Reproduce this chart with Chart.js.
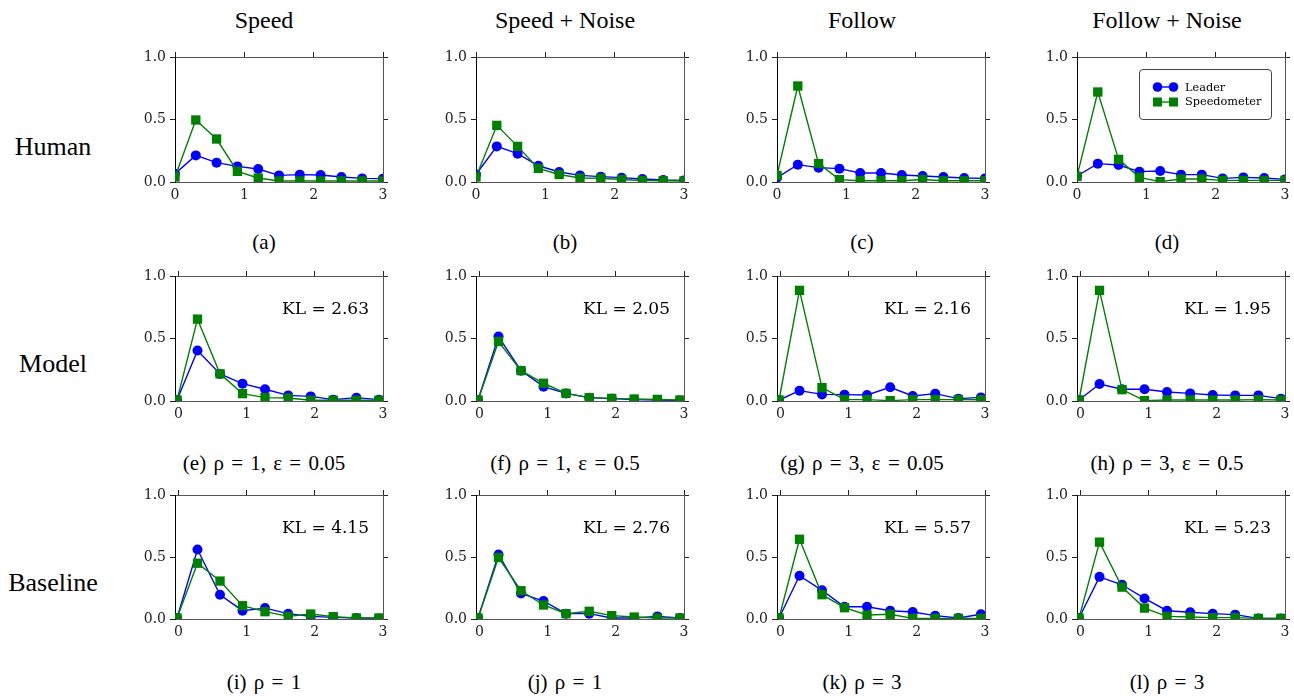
<!DOCTYPE html>
<html><head><meta charset="utf-8">
<script src="https://cdn.jsdelivr.net/npm/chart.js@4.4.0/dist/chart.umd.min.js"></script>
<style>
html,body{margin:0;padding:0;background:#fff;}
body{width:1294px;height:696px;position:relative;overflow:hidden;}
.t{position:absolute;font-family:"Liberation Serif","Times New Roman",serif;color:#000;white-space:nowrap;transform:translate(-50%,-50%);line-height:1;}
.cap{word-spacing:2px;}
.kl{position:absolute;font-family:"DejaVu Serif",serif;font-size:17px;color:#000;white-space:nowrap;transform:translate(-100%,-50%);line-height:1;}
canvas{position:absolute;}
#legend{position:absolute;left:1139px;top:69px;width:133px;height:51px;border:1px solid #444;border-radius:4px;box-sizing:border-box;background:#fff;font-family:"DejaVu Serif",serif;font-size:11.3px;z-index:5;}
#legend .row{position:absolute;left:0;height:14px;display:flex;align-items:center;}
#legend svg{margin-left:14px;margin-right:8px;}
</style>
</head><body>
<script>
// ---------- data ----------
const columnTitles = ["Speed", "Speed + Noise", "Follow", "Follow + Noise"];
const rowLabels = ["Human", "Model", "Baseline"];
const captions = ["(a)", "(b)", "(c)", "(d)",
  "(e) ρ = 1, ε = 0.05", "(f) ρ = 1, ε = 0.5", "(g) ρ = 3, ε = 0.05", "(h) ρ = 3, ε = 0.5",
  "(i) ρ = 1", "(j) ρ = 1", "(k) ρ = 3", "(l) ρ = 3"];
const klLabels = [null, null, null, null, "KL = 2.63", "KL = 2.05", "KL = 2.16", "KL = 1.95",
  "KL = 4.15", "KL = 2.76", "KL = 5.57", "KL = 5.23"];
const seriesNames = ["Leader", "Speedometer"];
const xTickValues = [0, 1, 2, 3];
const yTickValues = [0, 0.5, 1.0];

const xHuman = [0, 0.3, 0.6, 0.9, 1.2, 1.5, 1.8, 2.1, 2.4, 2.7, 3.0];
const xSim = [-0.02, 0.28, 0.61, 0.94, 1.27, 1.61, 1.94, 2.27, 2.61, 2.94];

const leaderA = [0.067, 0.213, 0.155, 0.125, 0.104, 0.053, 0.059, 0.056, 0.040, 0.029, 0.027];
const speedoA = [0.040, 0.496, 0.344, 0.085, 0.032, 0.008, 0.008, 0.008, 0.008, 0.008, 0.008];
const leaderB = [0.060, 0.285, 0.227, 0.130, 0.080, 0.053, 0.043, 0.035, 0.024, 0.016, 0.013];
const speedoB = [0.040, 0.453, 0.285, 0.109, 0.060, 0.032, 0.030, 0.020, 0.012, 0.010, 0.008];
const leaderC = [0.035, 0.139, 0.115, 0.107, 0.072, 0.072, 0.056, 0.048, 0.040, 0.032, 0.029];
const speedoC = [0.053, 0.768, 0.147, 0.019, 0.010, 0.010, 0.010, 0.020, 0.010, 0.010, 0.010];
const leaderD = [0.048, 0.147, 0.136, 0.083, 0.088, 0.059, 0.059, 0.029, 0.037, 0.032, 0.021];
const speedoD = [0.045, 0.720, 0.181, 0.037, 0.003, 0.024, 0.024, 0.013, 0.013, 0.013, 0.013];

const leaderE = [0.008, 0.404, 0.217, 0.139, 0.094, 0.045, 0.037, 0.011, 0.027, 0.011];
const speedoE = [0.008, 0.655, 0.217, 0.059, 0.027, 0.024, 0.006, 0.006, 0.006, 0.006];
const leaderF = [0.008, 0.516, 0.243, 0.115, 0.061, 0.027, 0.019, 0.011, 0.008, 0.005];
const speedoF = [0.008, 0.476, 0.243, 0.142, 0.061, 0.027, 0.021, 0.016, 0.013, 0.008];
const leaderG = [0.008, 0.083, 0.053, 0.051, 0.048, 0.110, 0.040, 0.059, 0.019, 0.029];
const speedoG = [0.008, 0.885, 0.107, 0.011, 0.011, 0.003, 0.011, 0.011, 0.011, 0.010];
const leaderH = [0.008, 0.136, 0.094, 0.094, 0.072, 0.061, 0.048, 0.045, 0.045, 0.019];
const speedoH = [0.008, 0.885, 0.091, 0.003, 0.008, 0.008, 0.008, 0.008, 0.011, 0.008];

const leaderI = [0.008, 0.560, 0.196, 0.067, 0.088, 0.043, 0.021, 0.013, 0.008, 0.005];
const speedoI = [0.008, 0.450, 0.306, 0.107, 0.059, 0.021, 0.040, 0.019, 0.008, 0.008];
const leaderJ = [0.008, 0.520, 0.206, 0.145, 0.043, 0.043, 0.008, 0.008, 0.021, 0.008];
const speedoJ = [0.008, 0.496, 0.228, 0.113, 0.043, 0.062, 0.027, 0.016, 0.008, 0.008];
const leaderK = [0.008, 0.349, 0.231, 0.099, 0.099, 0.067, 0.056, 0.027, 0.008, 0.038];
const speedoK = [0.008, 0.643, 0.196, 0.091, 0.032, 0.038, 0.005, 0.005, 0.005, 0.005];
const leaderL = [0.008, 0.340, 0.276, 0.166, 0.067, 0.054, 0.043, 0.035, 0.005, 0.005];
const speedoL = [0.008, 0.620, 0.257, 0.088, 0.021, 0.016, 0.011, 0.011, 0.005, 0.005];

const panelX = [xHuman, xHuman, xHuman, xHuman, xSim, xSim, xSim, xSim, xSim, xSim, xSim, xSim];
const panelLeader = [leaderA, leaderB, leaderC, leaderD, leaderE, leaderF, leaderG, leaderH, leaderI, leaderJ, leaderK, leaderL];
const panelSpeedo = [speedoA, speedoB, speedoC, speedoD, speedoE, speedoF, speedoG, speedoH, speedoI, speedoJ, speedoK, speedoL];
const rowXMin = [0, -0.05, -0.05];

// ---------- layout ----------
const colLeft = [175, 476, 777, 1077];
const rowTop = [57, 276, 495];
const plotW = 208;
const plotH = [125, 125, 124];
const padL = 44, padR = 14, padT = 14, padB = 28;
const colTextX = [264, 565, 862, 1167];
const titleY = 20;
const rowLabelX = 53;
const rowLabelY = [147, 364, 583];
const captionY = [242, 463, 682];

const BLUE = '#0000ff', GREEN = '#008000';
const tickFont = {family: 'DejaVu Serif', size: 14};

function addText(cls, txt, x, y, size) {
  const d = document.createElement('div');
  d.className = cls; d.textContent = txt;
  d.style.left = x + 'px'; d.style.top = y + 'px';
  if (size) d.style.fontSize = size + 'px';
  document.body.appendChild(d);
  return d;
}

columnTitles.forEach((t, i) => addText('t', t, colTextX[i], titleY, 24));
rowLabels.forEach((t, i) => addText('t', t, rowLabelX, rowLabelY[i], 26));
captions.forEach((t, i) => addText('t cap', t, colTextX[i % 4], captionY[Math.floor(i / 4)], 21));

function setTicks(vals) { return s => { s.ticks = vals.map(v => ({value: v})); }; }

function makePanel(idx) {
  const col = idx % 4, row = Math.floor(idx / 4);
  const W = plotW, H = plotH[row];
  const cv = document.createElement('canvas');
  cv.width = W + padL + padR; cv.height = H + padT + padB;
  cv.style.left = (colLeft[col] - padL) + 'px';
  cv.style.top = (rowTop[row] - padT) + 'px';
  document.body.appendChild(cv);
  const xs = panelX[idx];
  const xmin = rowXMin[row];
  new Chart(cv, {
    type: 'line',
    data: {
      datasets: [
        {label: seriesNames[0], data: xs.map((x, i) => ({x: x, y: panelLeader[idx][i]})),
         borderColor: BLUE, backgroundColor: BLUE, pointBackgroundColor: BLUE, pointBorderColor: BLUE,
         pointStyle: 'circle', pointRadius: 5, pointBorderWidth: 0, borderWidth: 1.4, tension: 0, clip: 0, order: 1},
        {label: seriesNames[1], data: xs.map((x, i) => ({x: x, y: panelSpeedo[idx][i]})),
         borderColor: GREEN, backgroundColor: GREEN, pointBackgroundColor: GREEN, pointBorderColor: GREEN,
         pointStyle: 'rect', pointRadius: 6.6, pointBorderWidth: 0, borderWidth: 1.4, tension: 0, clip: 0, order: 0}
      ]
    },
    options: {
      responsive: false, animation: false, devicePixelRatio: 1, events: [],
      layout: {padding: 0},
      plugins: {legend: {display: false}, tooltip: {enabled: false}},
      scales: {
        x: {type: 'linear', position: 'bottom', min: xmin, max: 3,
            afterBuildTicks: setTicks(xTickValues), afterFit: s => { s.height = padB; },
            grid: {display: true, drawOnChartArea: false, drawTicks: false},
            border: {color: '#555', width: 1},
            ticks: {font: tickFont, color: '#222', padding: 5, maxRotation: 0, autoSkip: false, callback: v => String(v)}},
        x2: {type: 'linear', position: 'top', min: xmin, max: 3,
            afterBuildTicks: setTicks(xTickValues), afterFit: s => { s.height = padT; },
            grid: {display: true, drawOnChartArea: false, drawTicks: true, tickLength: 5, color: '#222'},
            border: {color: '#555', width: 1},
            ticks: {display: false}},
        y: {type: 'linear', position: 'left', min: 0, max: 1,
            afterBuildTicks: setTicks(yTickValues), afterFit: s => { s.width = padL; },
            grid: {display: true, drawOnChartArea: false, drawTicks: true, tickLength: 5, color: '#222'},
            border: {color: '#000', width: 1},
            ticks: {font: tickFont, color: '#222', padding: 4, autoSkip: false, callback: v => Number(v).toFixed(1)}},
        y2: {type: 'linear', position: 'right', min: 0, max: 1,
            afterBuildTicks: setTicks(yTickValues), afterFit: s => { s.width = padR; },
            grid: {display: true, drawOnChartArea: false, drawTicks: true, tickLength: 5, color: '#222'},
            border: {color: '#555', width: 1},
            ticks: {display: false}}
      }
    }
  });
  if (klLabels[idx]) {
    addText('kl', klLabels[idx], colLeft[col] + W - 14, rowTop[row] + 32);
  }
}

for (let i = 0; i < 12; i++) makePanel(i);

// legend (panel d)
const lg = document.createElement('div');
lg.id = 'legend';
const legendMarkers = [
  '<circle cx="3.5" cy="5" r="4.8" fill="' + BLUE + '"/><circle cx="19.5" cy="5" r="4.8" fill="' + BLUE + '"/><line x1="3.5" y1="5" x2="19.5" y2="5" stroke="' + BLUE + '" stroke-width="1.4"/>',
  '<rect x="-1" y="0.5" width="9" height="9" fill="' + GREEN + '"/><rect x="15" y="0.5" width="9" height="9" fill="' + GREEN + '"/><line x1="3.5" y1="5" x2="19.5" y2="5" stroke="' + GREEN + '" stroke-width="1.4"/>'
];
seriesNames.forEach((name, i) => {
  const r = document.createElement('div');
  r.className = 'row';
  r.style.top = (10 + i * 14.5) + 'px';
  r.innerHTML = '<svg width="23" height="10" viewBox="0 0 23 10" style="overflow:visible">' + legendMarkers[i] + '</svg><span>' + name + '</span>';
  lg.appendChild(r);
});
document.body.appendChild(lg);
</script>
</body></html>
